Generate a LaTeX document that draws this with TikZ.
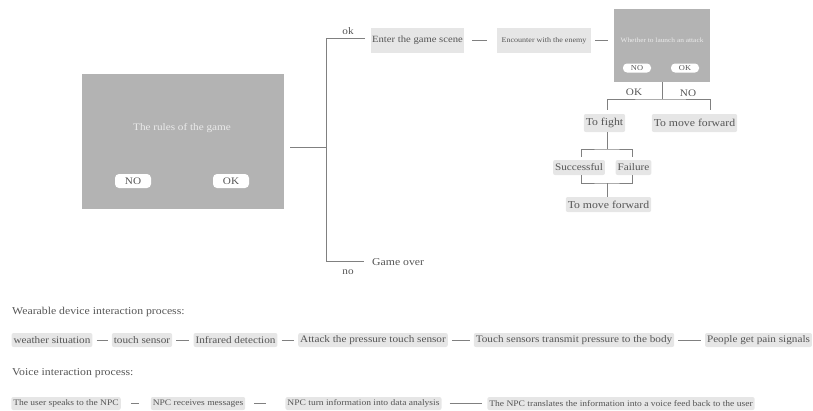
\documentclass[tikz,border=0pt]{standalone}
\usepackage{fontspec}
\setmainfont{Liberation Serif}[FakeStretch=1.12]
\usetikzlibrary{positioning}
\definecolor{boxgrey}{HTML}{B3B3B3}
\definecolor{taggrey}{HTML}{E6E6E6}
\definecolor{txtgrey}{HTML}{555555}
\definecolor{linegrey}{HTML}{808080}
\tikzset{
  panel/.style={fill=boxgrey, inner sep=0pt},
  paneltext/.style={text=white!92!black, inner sep=0pt},
  btn/.style={fill=white, rounded corners=4pt, inner sep=0pt, text=txtgrey},
  tag/.style={fill=taggrey, rounded corners=2pt, inner sep=2pt, text=txtgrey},
  plain/.style={inner sep=1pt, text=txtgrey},
  link/.style={draw=linegrey, line width=0.8pt},
  fs/.style={font=\fontsize{#1}{#1}\selectfont}
}
\begin{document}
\begin{tikzpicture}[x=1pt,y=-1pt]
    \useasboundingbox (0,0) rectangle (813,410);
    \node[panel, minimum width=202pt, minimum height=135pt] (rules) at (183,141.5) {};
    \node[paneltext, fs=10] (rulestitle) at (182,128) {The rules of the game};
    \node[btn, fs=10, minimum width=36pt, minimum height=14pt] (rulesno) at (133,181) {NO};
    \node[btn, fs=10, minimum width=36pt, minimum height=14pt] (rulesok) at (231,181) {OK};
    \coordinate (fork) at (326,147);
    \coordinate (okend) at (365,38);
    \coordinate (noend) at (364,261);
    \draw[link, shorten <=6pt] (rules.east |- fork) -- (fork);
    \draw[link] (okend) -| (fork |- noend) -- (noend);
    \node[plain, fs=10] (oklbl) at (348,31) {ok};
    \node[plain, fs=10] (nolbl) at (348,272) {no};
    \node[plain, fs=10.5, anchor=west] (over) at (371,262) {Game over};
    \node[fill=taggrey, text=txtgrey, inner sep=0pt, minimum width=93pt, minimum height=25pt, fs=9.5] (scene) at (417.5,40.5) {Enter the game scene};
    \node[fill=taggrey, text=txtgrey, inner sep=0pt, minimum width=94pt, minimum height=25pt, fs=7.2] (enemy) at (544,40.5) {Encounter with the enemy};
    \draw[link, shorten <=8pt, shorten >=10pt] (scene) -- (enemy);
    \node[panel, minimum width=96pt, minimum height=73pt] (attack) at (662,45.5) {};
    \draw[link, shorten <=4pt, shorten >=6pt] (enemy.east) -- (enemy.east -| attack.west);
    \node[paneltext, fs=6.6] (attacktitle) at (662,40) {Whether to launch an attack};
    \node[btn, fs=7.5, minimum width=28pt, minimum height=9pt] (attackno) at (637,68) {NO};
    \node[btn, fs=7.5, minimum width=28pt, minimum height=9pt] (attackok) at (685,68) {OK};
    \node[tag, fs=10.5, minimum height=18pt] (fight) at (604.5,123) {To fight};
    \node[tag, fs=10.5, minimum height=18pt] (forward) at (694.5,123) {To move forward};
    \coordinate (split) at (662,99);
    \draw[link] (attack.south) -- (split);
    \draw[link, shorten <=4pt, shorten >=4pt] (fight.north -| 607,0) |- (split) -| (attack.east |- forward.north);
    \node[plain, fs=10] (oklabel) at (634,92) {OK};
    \node[plain, fs=10] (nolabel) at (688,93) {NO};
    \node[tag, fs=10, minimum height=15pt] (success) at (579,167.5) {Successful};
    \node[tag, fs=10, minimum height=15pt] (failure) at (633.5,167.5) {Failure};
    \node[tag, fs=10.5, minimum height=15pt] (afterfight) at (608.5,204.5) {To move forward};
    \coordinate (split2) at (607,149);
    \coordinate (join) at (607,183);
    \draw[link] (fight.south -| split2) -- (split2);
    \draw[link, shorten <=3pt, shorten >=3pt] (success.north -| 581,0) |- (split2) -| (failure.north -| 632,0);
    \draw[link] (success.south -| 581,0) |- (join) -| (failure.south -| 632,0);
    \draw[link] (join) -- (afterfight.north -| join);
    \node[plain, fs=10.5, anchor=west] (weartitle) at (11,312) {Wearable device interaction process:};
    \node[tag, fs=10, minimum height=14pt] (w1) at (52,340) {weather situation};
    \node[tag, fs=10, minimum height=14pt] (w2) at (142,340) {touch sensor};
    \node[tag, fs=10, minimum height=14pt] (w3) at (235.5,340) {Infrared detection};
    \node[tag, fs=10, minimum height=14pt] (w4) at (373,340) {Attack the pressure touch sensor};
    \node[tag, fs=10, minimum height=14pt] (w5) at (574,340) {Touch sensors transmit pressure to the body};
    \node[tag, fs=10, minimum height=14pt] (w6) at (758.5,340) {People get pain signals};
    \foreach \a/\b in {w1/w2, w2/w3, w3/w4, w4/w5, w5/w6}
        \draw[link, shorten <=4pt, shorten >=4pt] (\a) -- (\b);
    \node[plain, fs=10.5, anchor=west] (voicetitle) at (11,373) {Voice interaction process:};
    \node[tag, fs=8.5, minimum height=13pt] (v1) at (66,403.5) {The user speaks to the NPC};
    \node[tag, fs=8.5, minimum height=13pt] (v2) at (198,403.5) {NPC receives messages};
    \node[tag, fs=8.5, minimum height=13pt] (v3) at (363.5,403.5) {NPC turn information into data analysis};
    \node[tag, fs=8.5, minimum height=13pt] (v4) at (621,403.5) {The NPC translates the information into a voice feed back to the user};
    \draw[link, shorten <=10pt, shorten >=12pt] (v1) -- (v2);
    \draw[link, shorten <=9pt, shorten >=19pt] (v2) -- (v3);
    \draw[link, shorten <=8pt, shorten >=5pt] (v3) -- (v4);
\end{tikzpicture}
\end{document}
